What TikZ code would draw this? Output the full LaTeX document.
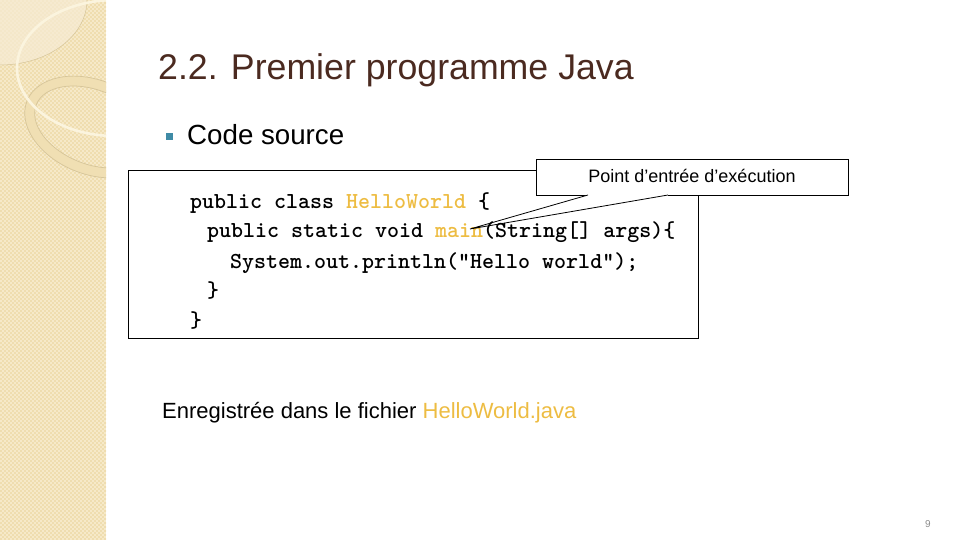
\documentclass[tikz,border=0pt]{standalone}
\usepackage{fontspec}
\setmainfont{Liberation Sans}
\usetikzlibrary{positioning}
\definecolor{sidebar}{HTML}{EFDDAF}
\definecolor{sidecheck}{HTML}{F6E9C8}
\definecolor{sidepale}{HTML}{F6EBD3}
\definecolor{sideband}{HTML}{F0DFB3}
\definecolor{sideline}{HTML}{D6C599}
\definecolor{sidering}{HTML}{FBF4DE}
\definecolor{titlebrown}{HTML}{4B2A20}
\definecolor{bullet}{HTML}{3F8BA6}
\definecolor{codeyellow}{HTML}{EDBC42}
\tikzset{
	codeline/.style={anchor=base west, inner sep=0pt, font=\ttfamily\bfseries\fontsize{22.86}{24}\selectfont},
	callout/.style={draw=black, fill=white, line width=0.8pt, minimum width=312pt, minimum height=36pt, inner sep=0pt, font=\fontsize{18}{20}\selectfont},
}
\begin{document}
\begin{tikzpicture}[x=1pt, y=-1pt]
	\useasboundingbox (0, 0) rectangle (960, 540);
	
	%%%%% SIDEBAR %%%%%
	\fill[sidebar] (0, 0) rectangle (106, 540);
	\foreach \row in {0, 1, ..., 269} {
		\pgfmathsetmacro{\phase}{mod(\row, 2)*2}
		\draw[sidecheck, line width=2pt, dash pattern=on 2pt off 2pt, dash phase=\phase pt] (0, \row*2+1) -- (106, \row*2+1);
	}
	\begin{scope}
		\clip (0, 0) rectangle (106, 540);
		\draw[sideline, fill=sidepale, fill opacity=0.75, line width=0.5pt] (0, 0) ellipse [x radius=87, y radius=65];
		\draw[sideline, fill=sideband, even odd rule, line width=0.7pt] (92, 127) ellipse [x radius=70, y radius=47, rotate=-22] (92, 127) ellipse [x radius=60, y radius=37, rotate=-22];
		\draw[sidering, line width=2.6pt] (115, 68) ellipse [x radius=98, y radius=68];
	\end{scope}
	
	%%%%% TITLE %%%%%
	\node[anchor=base west, inner sep=0pt, text=titlebrown, font=\fontsize{35.7}{38}\selectfont] (title) at (158, 80) {2.2. Premier programme Java};
	\node[fill=bullet, minimum size=7pt, inner sep=0pt] (mark) at (169.5, 136.5) {};
	\node[anchor=base west, inner sep=0pt, font=\fontsize{27.7}{30}\selectfont] (subtitle) at (187, 145) {Code source};
	
	%%%%% CODE %%%%%
	\node[draw=black, line width=0.8pt, minimum width=570pt, minimum height=168pt, inner sep=0pt] (codebox) at (413, 254) {};
	
	\node[callout] (entry) at (692, 177) {\raisebox{3pt}{Point d’entrée d’exécution}};
	\coordinate (tailleft) at (588, 195);
	\coordinate (tailright) at (668, 195);
	\coordinate (tailtip) at (470, 229);
	\fill[white] (tailleft) -- (tailtip) -- (tailright) -- cycle;
	\draw[white, line width=1.4pt] (tailleft) -- (tailright);
	
	\node[codeline] (line1) at (190, 208) {public class \textcolor{codeyellow}{HelloWorld} \{};
	\node[codeline] (line2) at (207, 237.5) {public static void \textcolor{codeyellow}{main}(String[] args)\{};
	\node[codeline] (line3) at (230, 268) {System.out.println("Hello world");};
	\node[codeline] (line4) at (207, 297) {\}};
	\node[codeline] (line5) at (190, 327) {\}};
	
	\draw[line width=0.8pt] (tailleft) -- (tailtip) -- (tailright);
	
	\node[anchor=base west, inner sep=0pt, font=\fontsize{22}{24}\selectfont] (saved) at (162, 418) {Enregistrée dans le fichier \textcolor{codeyellow}{HelloWorld.java}};
	\node[text=black!45, inner sep=0pt, font=\fontsize{10}{12}\selectfont] (pagenum) at (928, 524) {9};
\end{tikzpicture}
\end{document}
